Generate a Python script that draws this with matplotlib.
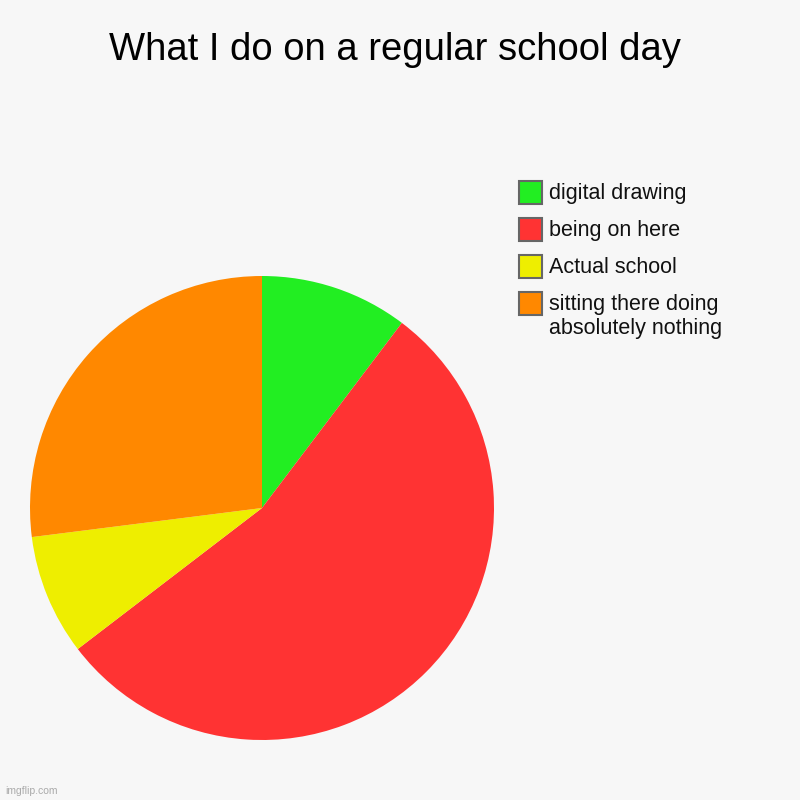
import matplotlib.pyplot as plt
from matplotlib.patches import Rectangle

plt.rcParams['font.family'] = ['Liberation Sans', 'DejaVu Sans']

# datos del gráfico
labels = ["digital drawing", "being on here", "Actual school",
          "sitting there doing\nabsolutely nothing"]
values = [10.3, 54.3, 8.4, 27.0]
colors = ["#22ee22", "#ff3333", "#eeee00", "#ff8800"]

bg = "#f7f7f7"
W = 800.0
fig = plt.figure(figsize=(8, 8), dpi=100, facecolor=bg)

# pastel
ax = fig.add_axes([30 / W, 60 / W, 464 / W, 464 / W])
ax.set_facecolor(bg)
ax.pie(values, colors=colors, startangle=90, counterclock=False,
       radius=1, wedgeprops={"linewidth": 0})
ax.set_xlim(-1, 1)
ax.set_ylim(-1, 1)
ax.set_aspect("equal")
ax.axis("off")

# título
fig.text(395 / W, 1 - 50 / W, "What I do on a regular school day",
         ha="center", va="center", fontsize=27.5, color="#000000")

# leyenda (a mano, para alinear la caja con la primera línea)
for i, (lab, c) in enumerate(zip(labels, colors)):
    top = 181 + i * 37
    fig.patches.append(Rectangle((519 / W, 1 - (top + 23) / W), 23 / W, 23 / W,
                                 transform=fig.transFigure, facecolor=c,
                                 edgecolor="#666666", linewidth=1.5))
    fig.text(549 / W, 1 - (top + 2) / W, lab, ha="left", va="top",
             fontsize=15.5, color="#111111", linespacing=1.2)

# marca de agua
fig.text(5 / W, 1 - 791 / W, "imgflip.com", ha="left", va="center",
         fontsize=7.5, color="#aaaaaa")

plt.savefig("out.png", dpi=100, facecolor=bg)
